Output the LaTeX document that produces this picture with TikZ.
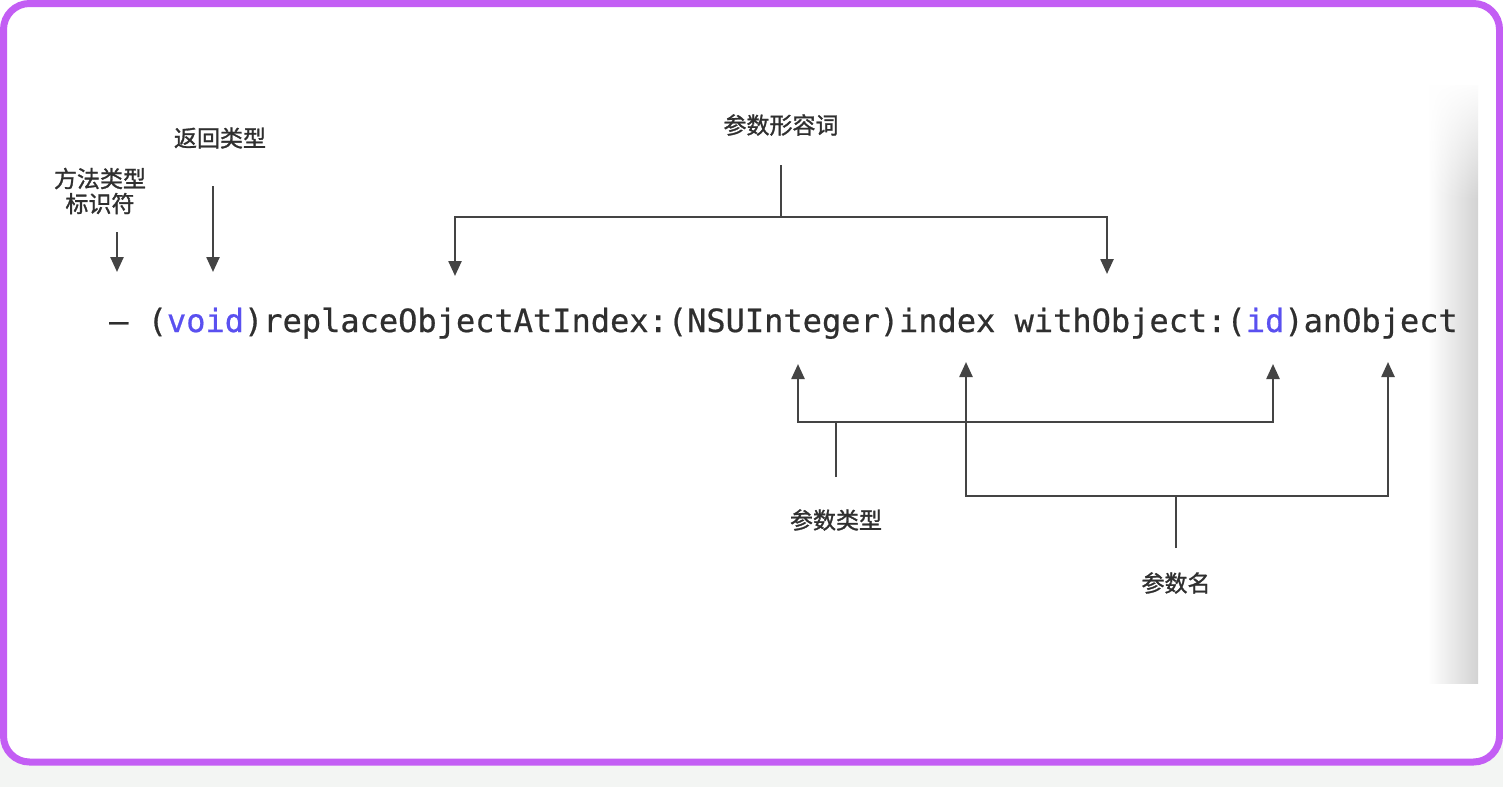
\documentclass[tikz,border=0pt]{standalone}
\usepackage{fontspec}
\newfontfamily\cjk[FakeBold=1.2]{Noto Sans CJK SC}
\newfontfamily\mono[FakeBold=0.6]{DejaVu Sans Mono}
\usetikzlibrary{arrows.meta,fadings}
\definecolor{border}{HTML}{C35EF4}
\definecolor{strip}{HTML}{F3F5F3}
\definecolor{kw}{HTML}{5A50F0}
\definecolor{ink}{HTML}{2F2F2F}
\definecolor{ln}{HTML}{444444}
\definecolor{shade}{HTML}{D2D2D2}
\begin{document}
\begin{tikzpicture}[x=1pt,y=-1pt,
  lab/.style={font=\cjk\fontsize{23}{25}\selectfont, text=ink, inner sep=0pt, align=center},
  conn/.style={draw=ln, line width=2.4pt},
  arr/.style={conn, -{Triangle[width=13pt,length=15pt]}}]
\useasboundingbox (0,0) rectangle (1503,787);
% background
\fill[white] (0,0) rectangle (1503,787);
\fill[strip] (0,740) rectangle (1503,787);
\fill[white, rounded corners=26pt] (3.5,3.5) rectangle (1499.5,762);
% shadow of the embedded picture
\shade[left color=white, right color=shade] (1428,85) rectangle (1478,683);
\fill[white, path fading=south] (1420,80) rectangle (1480,200);
\draw[border, line width=7pt, rounded corners=26pt] (3.5,3.5) rectangle (1499.5,762);

% code line
\node[anchor=base west, inner sep=0pt, font=\mono\fontsize{32}{36}\selectfont, text=ink] (code) at (109,332)
  {–~({\color{kw}void})replaceObjectAtIndex:(NSUInteger)index withObject:({\color{kw}id})anObject};

% labels
\node[lab] (l1) at (100,191) {方法类型\\标识符};
\node[lab] (l2) at (220,138) {返回类型};
\node[lab] (l3) at (781,125) {参数形容词};
\node[lab] (l4) at (836,520) {参数类型};
\node[lab] (l5) at (1176,583) {参数名};

% coordinates
\coordinate (s1) at (117,232);
\coordinate (t1) at (117,272);
\coordinate (s2) at (213,186);
\coordinate (t2) at (213,272);
\coordinate (s3) at (781,165);
\coordinate (h3) at (781,217);
\coordinate (t3a) at (455,276);
\coordinate (t3b) at (1107,274);
\coordinate (s4) at (836,477);
\coordinate (h4) at (836,422);
\coordinate (b1) at (798,364);
\coordinate (b3) at (1273,364);
\coordinate (s5) at (1176,548);
\coordinate (h5) at (1176,496);
\coordinate (b2) at (966,362);
\coordinate (b4) at (1388,362);

% connectors
\draw[arr] (s1) -- (t1);
\draw[arr] (s2) -- (t2);
\draw[conn] (s3) -- (h3);
\draw[arr] (h3) -| (t3a);
\draw[arr] (h3) -| (t3b);
\draw[conn] (s4) -- (h4);
\draw[arr] (h4) -| (b1);
\draw[arr] (h4) -| (b3);
\draw[conn] (s5) -- (h5);
\draw[arr] (h5) -| (b2);
\draw[arr] (h5) -| (b4);
\end{tikzpicture}
\end{document}
